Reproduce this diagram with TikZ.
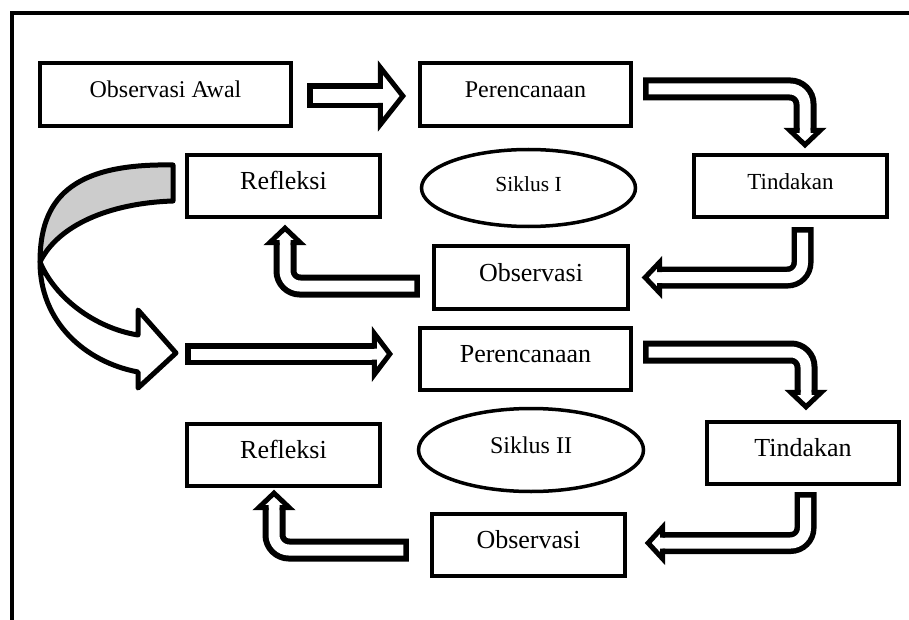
\documentclass[tikz,border=0pt]{standalone}
\usepackage{fontspec}
\setmainfont{Liberation Serif}
\usetikzlibrary{shapes.geometric,calc}

\tikzset{
  box/.style={draw, line width=4.3pt, minimum height=62pt, inner sep=2pt,
    text height=17pt, text depth=10pt, font=\fontsize{26}{30}\selectfont},
  siklus/.style={ellipse, draw, line width=3.5pt, inner sep=0pt,
    text height=17pt, text depth=10pt},
  shaft/.style args={#1/#2/#3}{line width=#1, rounded corners=15pt, shorten >=#3,
    postaction={draw=white, line width=#2, shorten <=5.5pt, shorten >=#3}},
}
% hollow arrow head: tip, direction, half width, length, half shaft
\newcommand{\headat}[5]{%
  \begin{scope}[shift={#1}, rotate=#2]
    \fill[white] (-3-#4,-#3) -- (-3,0) -- (-3-#4,#3) -- cycle;
    \draw[line width=5pt] (-3-#4,-#5) -- (-3-#4,-#3) -- (-3,0)
      -- (-3-#4,#3) -- (-3-#4,#5);
  \end{scope}}

\begin{document}
\begin{tikzpicture}[x=1pt, y=-1pt]
  \useasboundingbox (0,0) rectangle (909,620);
  % frame (cut at right and bottom)
  \draw[line width=4.5pt] (12,630) -- (12,13) -- (920,13);

  % first cycle
  \node[box, minimum width=251pt, minimum height=63pt,
    font=\fontsize{24}{28}\selectfont] (obs0) at (165.5,94.5) {Observasi Awal};
  \node[box, minimum width=211pt, minimum height=63pt,
    font=\fontsize{24}{28}\selectfont] (per1) at (525.5,94.5) {Perencanaan};
  \node[box, minimum width=193pt] (ref1) at (283.5,186) {Refleksi};
  \node[siklus, minimum width=214pt, minimum height=77pt,
    font=\fontsize{21.5}{26}\selectfont] (sik1) at (528.5,188) {Siklus I};
  \node[box, minimum width=193pt,
    font=\fontsize{23}{27}\selectfont] (tin1) at (790.5,186) {Tindakan};
  \node[box, minimum width=194pt, minimum height=63pt] (ob1) at (531,277.5) {Observasi};

  % second cycle
  \node[box, minimum width=211pt] (per2) at (525.5,359) {Perencanaan};
  \node[box, minimum width=193pt] (ref2) at (283.5,455) {Refleksi};
  \node[siklus, minimum width=225pt, minimum height=83pt,
    font=\fontsize{24}{28}\selectfont] (sik2) at (531,450) {Siklus II};
  \node[box, minimum width=192pt] (tin2) at (803,453) {Tindakan};
  \node[box, minimum width=193pt] (ob2) at (528.5,545) {Observasi};

  % arrow tips
  \coordinate (h1) at ($(per1.west)+(-12,1.5)$);
  \coordinate (h2) at ($(tin1.north)+(14.5,-5)$);
  \coordinate (h3) at ($(ob1.east)+(12,0)$);
  \coordinate (h4) at ($(ref1.south)+(1.5,6)$);
  \coordinate (c2) at (185,354);
  \coordinate (h5) at ($(per2.west)+(-25,-5)$);
  \coordinate (h6) at ($(tin2.north)+(3,-10)$);
  \coordinate (h7) at ($(ob2.east)+(18,-2)$);
  \coordinate (h8) at ($(ref2.south)+(-9.5,2)$);

  % block arrows, cycle I
  \draw[shaft=25pt/14pt/24.5pt] ($(obs0.east)+(14,1.5)$) -- (h1);
  \headat{(h1)}{0}{28.5}{22.5}{7}
  \draw[shaft=23pt/11pt/16.5pt] ($(per1.east)+(10,-5.5)$) -| (h2);
  \headat{(h2)}{-90}{15.25}{14.5}{5.5}
  \draw[shaft=22pt/11pt/16.5pt] ($(tin1.south)+(12,8)$) |- (h3);
  \headat{(h3)}{180}{15.25}{14.5}{5.5}
  \draw[shaft=23pt/11pt/16.5pt] ($(ob1.west)+(-12,8.5)$) -| (h4);
  \headat{(h4)}{90}{15.25}{14.5}{5.5}

  % curved arrow from cycle I to cycle II
  \filldraw[fill=white, line width=5pt, line join=round]
    (40,262) .. controls (40,322) and (85,362) .. (138,372)
    -- (138,388) -- (176,353) -- (138,310) -- (138,335)
    .. controls (95,328) and (55,298) .. (40,262) -- cycle;
  \filldraw[fill=gray!40, line width=5pt, line join=round]
    (173,165) .. controls (70,163) and (40,200) .. (40,262)
    .. controls (58,225) and (110,203) .. (173,201) -- cycle;

  % block arrows, cycle II
  \draw[shaft=22pt/11pt/17.5pt] (c2) -- (h5);
  \headat{(h5)}{0}{20.5}{15.5}{5.5}
  \draw[shaft=23pt/11pt/16.5pt] ($(per2.east)+(10,-7)$) -| (h6);
  \headat{(h6)}{-90}{15.25}{14.5}{5.5}
  \draw[shaft=22pt/11pt/16.5pt] ($(tin2.south)+(2.5,6)$) |- (h7);
  \headat{(h7)}{180}{15.75}{14.5}{5.5}
  \draw[shaft=23pt/11pt/16.5pt] ($(ob2.west)+(-21,5)$) -| (h8);
  \headat{(h8)}{90}{15.25}{14.5}{5.5}
\end{tikzpicture}
\end{document}
